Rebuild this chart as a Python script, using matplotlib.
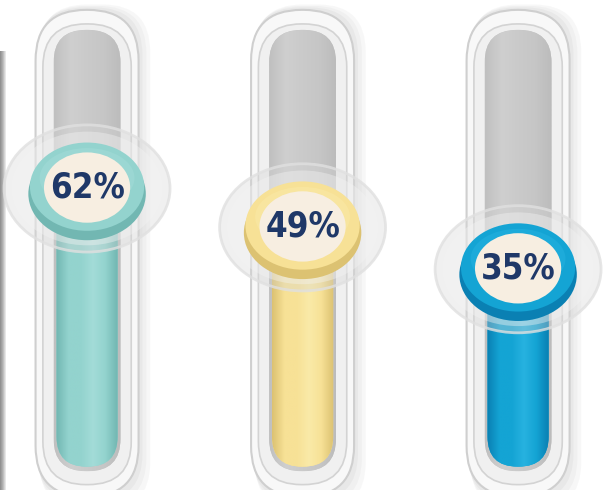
import numpy as np
import matplotlib.pyplot as plt
from matplotlib.patches import Ellipse, FancyBboxPatch, Rectangle
from matplotlib.colors import to_rgb

# Data
labels = ['62%', '49%', '35%']
values = [62, 49, 35]
colors = ['#93d3ce', '#f7e196', '#14a4d4']
dark_colors = ['#72b7b2', '#dcc272', '#0a80b3']
light_colors = ['#a3dcd8', '#faeaa8', '#27b2e0']

fig = plt.figure(figsize=(6.03, 4.90), dpi=100)
ax = fig.add_axes([0, 0, 1, 1])
XL = (-0.404, 2.394)
YL = (-38.8, 125)

# pixels per data unit, used to keep rounded corners circular
sx = 603 / (XL[1] - XL[0])
sy = 490 / (YL[1] - YL[0])
asp = sx / sy


def rbox(x0, y0, w, h, r, **kw):
    p = FancyBboxPatch((x0, y0), w, h,
                       boxstyle=f"round,pad=0,rounding_size={r}",
                       mutation_aspect=asp, **kw)
    ax.add_patch(p)
    return p


def hgrad(patch, x0, x1, y0, y1, stops, z):
    # horizontal gradient clipped to a patch
    n = 64
    t = np.linspace(0, 1, n)
    pos = np.linspace(0, 1, len(stops))
    rgb = np.array([to_rgb(c) for c in stops])
    img = np.stack([np.interp(t, pos, rgb[:, k]) for k in range(3)], axis=-1)
    im = ax.imshow(img[None, :, :], extent=(x0, x1, y0, y1), aspect='auto',
                   zorder=z, interpolation='bilinear')
    im.set_clip_path(patch)


# left-edge shadow of a neighbouring tube
edge = Rectangle((XL[0], YL[0]), 0.025, 108 - YL[0], facecolor='none', edgecolor='none')
ax.add_patch(edge)
hgrad(edge, XL[0], XL[0] + 0.025, YL[0], 108, ['#8a8a8a', '#b5b5b5', '#f2f2f2'], 1)

for i, (v, lab) in enumerate(zip(values, labels)):
    # tube shadow
    for k, a in enumerate([0.05, 0.05, 0.06]):
        d = 0.006 * (3 - k)
        rbox(i - 0.239 + d, -41 - 1.5 * (3 - k), 0.478 + 2 * d, 163 + 2 * (3 - k), 0.22,
             facecolor='#707070', edgecolor='none', alpha=a, zorder=2)
    # outer shell
    rbox(i - 0.239, -41, 0.478, 162.7, 0.235,
         facecolor='#f8f8f8', edgecolor='#cfcfcf', lw=1.5, zorder=3)
    rbox(i - 0.205, -37, 0.41, 154, 0.2,
         facecolor='#f0f0f0', edgecolor='#d3d3d3', lw=1.2, zorder=3)
    # gray track
    track = rbox(i - 0.155, -32.5, 0.31, 147.5, 0.15,
                 facecolor='#c8c8c8', edgecolor='none', zorder=4)
    hgrad(track, i - 0.155, i + 0.155, -32.5, 115,
          ['#c0c0c0', '#cfcfcf', '#cacaca', '#c6c6c6', '#bcbcbc'], 4)
    # coloured fill
    fill = rbox(i - 0.142, -31, 0.284, v + 31, 0.14,
                facecolor=colors[i], edgecolor='none', zorder=5)
    hgrad(fill, i - 0.142, i + 0.142, -31, v,
          [dark_colors[i], colors[i], colors[i], light_colors[i], colors[i], dark_colors[i]], 5)
    # halo around the knob
    ax.add_patch(Ellipse((i, v), 0.77, 42.5, facecolor='#d6d6d6', edgecolor='none',
                         alpha=0.35, zorder=6))
    ax.add_patch(Ellipse((i, v), 0.70, 38, facecolor='#f4f4f4', edgecolor='none',
                         alpha=0.4, zorder=6))
    ax.add_patch(Ellipse((i, v), 0.77, 42.5, facecolor='none', edgecolor='#e0e0e0',
                         lw=2, alpha=0.8, zorder=6))
    # knob
    ax.add_patch(Ellipse((i, v - 1.8), 0.545, 31, facecolor=dark_colors[i],
                         edgecolor='none', zorder=7))
    ax.add_patch(Ellipse((i, v + 0.6), 0.53, 29.5, facecolor=colors[i],
                         edgecolor='none', zorder=7))
    ax.add_patch(Ellipse((i, v + 3.5), 0.44, 20, facecolor=light_colors[i],
                         edgecolor='none', alpha=0.5, zorder=7))
    ax.add_patch(Ellipse((i, v + 0.3), 0.40, 23.5, facecolor='#f7eee1',
                         edgecolor='none', zorder=8))
    ax.text(i, v + 0.3, lab, ha='center', va='center', fontsize=25,
            fontweight='bold', fontstretch='condensed', color='#1f3868',
            family=['DejaVu Sans'], zorder=9)

ax.set_xlim(*XL)
ax.set_ylim(*YL)
ax.axis('off')
fig.savefig('out.png', dpi=100, facecolor='white')
